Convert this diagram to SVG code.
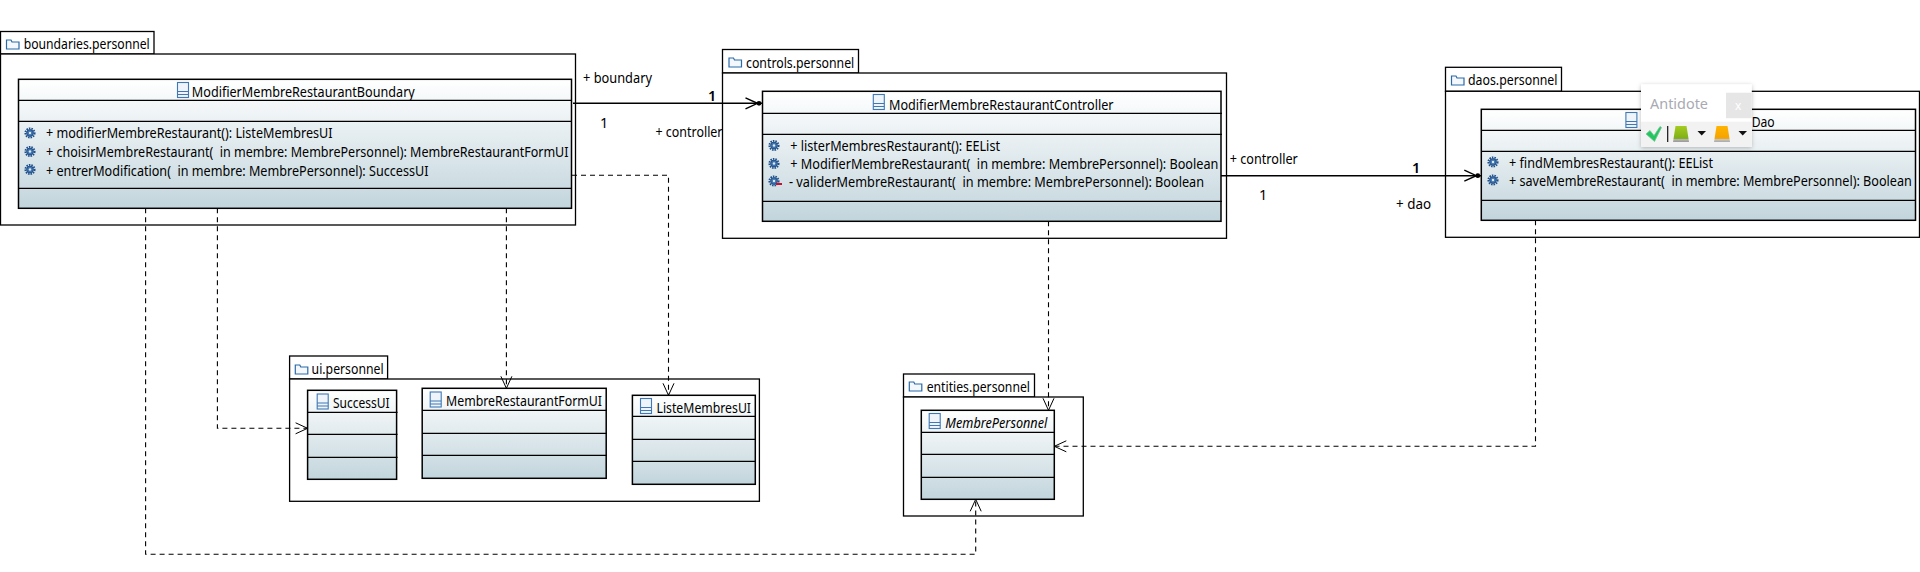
<svg xmlns="http://www.w3.org/2000/svg" width="1920" height="572" viewBox="0 0 1920 572">
<style>
text{font-family:"Noto Sans","Liberation Sans",sans-serif;font-size:14.5px;fill:#000;white-space:pre}
.pkg{fill:#fff;stroke:#000;stroke-width:1.3}
.cls{fill:url(#g);stroke:#000;stroke-width:1.5}
.sep{stroke:#000;stroke-width:1.3}
.ci{fill:#eef4fa;stroke:#3f78b5;stroke-width:1.1}
.fo{fill:#f4f8fc;stroke:#2a6aa8;stroke-width:1.2}
.as{fill:none;stroke:#000;stroke-width:1.4;marker-end:url(#assoc)}
.dp{fill:none;stroke:#000;stroke-width:1.1;stroke-dasharray:5 4;marker-end:url(#open)}
.it{font-style:italic}
.b{font-weight:600}
</style>
<defs>
<linearGradient id="g" x1="0" y1="0" x2="0" y2="1"><stop offset="0" stop-color="#fff"/><stop offset="1" stop-color="#c2d5dc"/></linearGradient>
<linearGradient id="gr" x1="0" y1="0" x2="0" y2="1"><stop offset="0" stop-color="#a5cc1f"/><stop offset=".78" stop-color="#7eaf16"/><stop offset=".8" stop-color="#bbb"/><stop offset="1" stop-color="#999"/></linearGradient>
<linearGradient id="or" x1="0" y1="0" x2="0" y2="1"><stop offset="0" stop-color="#ffb400"/><stop offset=".78" stop-color="#f5a300"/><stop offset=".8" stop-color="#ccc"/><stop offset="1" stop-color="#aaa"/></linearGradient>
<filter id="sh" x="-10%" y="-15%" width="120%" height="130%"><feDropShadow dx="0" dy="1" stdDeviation="2" flood-color="#000" flood-opacity=".25"/></filter>
<marker id="open" markerUnits="userSpaceOnUse" markerWidth="16" markerHeight="14" refX="13" refY="6.5" orient="auto"><path d="M1 1L13 6.5L1 12" fill="none" stroke="#000" stroke-width="1"/></marker>
<marker id="assoc" markerUnits="userSpaceOnUse" markerWidth="20" markerHeight="16" refX="18" refY="7" orient="auto"><path d="M1 1.5L13 7L1 12.5" fill="none" stroke="#000" stroke-width="1.4"/><circle cx="14.5" cy="7" r="2.4" fill="#000"/></marker>
<g id="gear"><circle r="4.6" fill="none" stroke="#1f4f8a" stroke-width="1.9" stroke-dasharray="1.5 1"/><circle r="3.4" fill="#3f75b0" stroke="#1c477f" stroke-width=".9"/><circle r="1.2" fill="#dfeaf5"/></g>
<g id="cicon"><rect class="ci" x="-5.5" y="-7.5" width="11" height="15"/><path class="ci" d="M-5.5 1.5H5.5M-5.5 4.5H5.5"/></g>
<path id="fold" class="fo" d="M0 1V10H12.5V3H5.5L4.5 1Z"/>
</defs>

<g id="pkg-boundaries">
<rect class="pkg" x="0.5" y="31.5" width="153.5" height="22.5"/>
<rect class="pkg" x="0.5" y="54" width="575" height="171"/>
<use href="#fold" x="6.5" y="39"/>
<text x="23.7" y="49" textLength="126" lengthAdjust="spacingAndGlyphs">boundaries.personnel</text>
</g>
<g id="ModifierMembreRestaurantBoundary">
<rect class="cls" x="18.5" y="79.3" width="553" height="129"/>
<path class="sep" d="M18.5 100.3H572M18.5 121.3H572M18.5 188.3H572"/>
<use href="#cicon" x="183" y="90"/>
<text x="191.8" y="97" textLength="223" lengthAdjust="spacingAndGlyphs">ModifierMembreRestaurantBoundary</text>
<use href="#gear" x="30" y="133"/><use href="#gear" x="30" y="151.5"/><use href="#gear" x="30" y="169.5"/>
<text x="46" y="138" textLength="286.5" lengthAdjust="spacingAndGlyphs">+ modifierMembreRestaurant(): ListeMembresUI</text>
<text x="46" y="157" textLength="522.5" lengthAdjust="spacingAndGlyphs">+ choisirMembreRestaurant(  in membre: MembrePersonnel): MembreRestaurantFormUI</text>
<text x="46" y="175.5" textLength="382.5" lengthAdjust="spacingAndGlyphs">+ entrerModification(  in membre: MembrePersonnel): SuccessUI</text>
</g>

<g id="pkg-controls">
<rect class="pkg" x="722.5" y="49.5" width="136" height="23.5"/>
<rect class="pkg" x="722.5" y="73" width="504" height="165.3"/>
<use href="#fold" x="729" y="57"/>
<text x="746" y="67.5" textLength="108.3" lengthAdjust="spacingAndGlyphs">controls.personnel</text>
</g>
<g id="ModifierMembreRestaurantController">
<rect class="cls" x="762.5" y="91.3" width="458.5" height="130"/>
<path class="sep" d="M762.5 113.3H1222M762.5 134.3H1222M762.5 201.3H1222"/>
<use href="#cicon" x="878.8" y="102"/>
<text x="889" y="109.5" textLength="224.5" lengthAdjust="spacingAndGlyphs">ModifierMembreRestaurantController</text>
<use href="#gear" x="774" y="145.5"/><use href="#gear" x="774" y="163.5"/><use href="#gear" x="774" y="181"/>
<path d="M776 184H782" stroke="#c8102e" stroke-width="2"/>
<text x="790.2" y="151" textLength="209.8" lengthAdjust="spacingAndGlyphs">+ listerMembresRestaurant(): EEList</text>
<text x="790.2" y="169" textLength="428.2" lengthAdjust="spacingAndGlyphs">+ ModifierMembreRestaurant(  in membre: MembrePersonnel): Boolean</text>
<text x="789" y="187" textLength="415" lengthAdjust="spacingAndGlyphs">- validerMembreRestaurant(  in membre: MembrePersonnel): Boolean</text>
</g>

<g id="pkg-daos">
<rect class="pkg" x="1445.5" y="67.3" width="116" height="24"/>
<rect class="pkg" x="1445.5" y="91.3" width="474" height="146"/>
<use href="#fold" x="1451.5" y="75"/>
<text x="1468" y="85" textLength="89.5" lengthAdjust="spacingAndGlyphs">daos.personnel</text>
</g>
<g id="MembreRestaurantDao">
<rect class="cls" x="1481.3" y="109.3" width="434.2" height="111"/>
<path class="sep" d="M1481.3 130.3H1915.5M1481.3 151.3H1915.5M1481.3 200.3H1915.5"/>
<use href="#cicon" x="1631.4" y="120"/>
<text x="1751.7" y="127" textLength="23" lengthAdjust="spacingAndGlyphs">Dao</text>
<use href="#gear" x="1493" y="162"/><use href="#gear" x="1493" y="180"/>
<text x="1509" y="168" textLength="204" lengthAdjust="spacingAndGlyphs">+ findMembresRestaurant(): EEList</text>
<text x="1509" y="186" textLength="402.8" lengthAdjust="spacingAndGlyphs">+ saveMembreRestaurant(  in membre: MembrePersonnel): Boolean</text>
</g>

<g id="pkg-ui">
<rect class="pkg" x="289.6" y="356" width="98" height="23"/>
<rect class="pkg" x="289.6" y="379" width="469.8" height="122.3"/>
<use href="#fold" x="295.3" y="364"/>
<text x="311.6" y="374" textLength="72" lengthAdjust="spacingAndGlyphs">ui.personnel</text>
</g>
<g id="SuccessUI">
<rect class="cls" x="307.6" y="390.3" width="89" height="89"/>
<path class="sep" d="M307.6 412.3H397.5M307.6 434.3H397.5M307.6 457.3H397.5"/>
<use href="#cicon" x="322.7" y="401.5"/>
<text x="332.9" y="408" textLength="56.7" lengthAdjust="spacingAndGlyphs">SuccessUI</text>
</g>
<g id="MembreRestaurantFormUI">
<rect class="cls" x="422.2" y="388.3" width="184" height="90"/>
<path class="sep" d="M422.2 410.3H607M422.2 433.3H607M422.2 455.3H607"/>
<use href="#cicon" x="435.7" y="399.5"/>
<text x="446" y="406" textLength="156" lengthAdjust="spacingAndGlyphs">MembreRestaurantFormUI</text>
</g>
<g id="ListeMembresUI">
<rect class="cls" x="632.4" y="395.3" width="122.9" height="89"/>
<path class="sep" d="M632.4 416.3H756M632.4 439.3H756M632.4 461.3H756"/>
<use href="#cicon" x="646" y="406"/>
<text x="656.5" y="413" textLength="94.5" lengthAdjust="spacingAndGlyphs">ListeMembresUI</text>
</g>

<g id="pkg-entities">
<rect class="pkg" x="903.5" y="374" width="131" height="23"/>
<rect class="pkg" x="903.5" y="397" width="179.8" height="119"/>
<use href="#fold" x="909.3" y="381"/>
<text x="926.7" y="392" textLength="103.3" lengthAdjust="spacingAndGlyphs">entities.personnel</text>
</g>
<g id="MembrePersonnel">
<rect class="cls" x="921.3" y="410.3" width="133" height="89"/>
<path class="sep" d="M921.3 432.3H1055M921.3 454.3H1055M921.3 477.3H1055"/>
<use href="#cicon" x="934.7" y="421"/>
<text class="it" x="945.3" y="427.5" textLength="102" lengthAdjust="spacingAndGlyphs">MembrePersonnel</text>
</g>

<g id="connectors">
<path class="as" d="M573 103.3H762.5"/>
<path class="as" d="M1221 175.7H1481.3"/>
<path class="dp" d="M572 175.3H668.5V395.3"/>
<path class="dp" d="M506.4 208.3V388.3"/>
<path class="dp" d="M217.4 208.3V428.3H307.6"/>
<path class="dp" d="M145.6 208.3V554.3H975.7V499.3"/>
<path class="dp" d="M1048.5 221.3V410.3"/>
<path class="dp" d="M1535.5 220.3V446.3H1054.3"/>
<g id="connector-labels">
<text x="583" y="83" textLength="69" lengthAdjust="spacingAndGlyphs">+ boundary</text>
<text x="600" y="128">1</text>
<text class="b" x="708" y="101">1</text>
<text x="655.5" y="137" textLength="67" lengthAdjust="spacingAndGlyphs">+ controller</text>
<text x="1229.8" y="164" textLength="68" lengthAdjust="spacingAndGlyphs">+ controller</text>
<text x="1259" y="200">1</text>
<text class="b" x="1412" y="173">1</text>
<text x="1396" y="209" textLength="35" lengthAdjust="spacingAndGlyphs">+ dao</text>
</g>
</g>

<g id="antidote-popup">
<rect x="1641" y="84.3" width="110.8" height="62.7" fill="#fff" filter="url(#sh)"/>
<rect x="1641" y="121.7" width="110.8" height="25.3" fill="#f2f2f2"/>
<rect x="1726" y="92.7" width="25.8" height="25.5" fill="#e6e6e6"/>
<text x="1650" y="109" textLength="58" lengthAdjust="spacingAndGlyphs" style="font-size:15px;fill:#a9a9b3">Antidote</text>
<text x="1735" y="110" style="font-size:12px;fill:#fff">x</text>
<path d="M1646 134L1650 130.5L1654 135.5L1660 126.5L1661.5 127.5L1654.5 141.5Z" fill="#22c55e" stroke="#7ac79a" stroke-width=".8"/>
<path d="M1667.7 126V142" stroke="#111" stroke-width="1.2"/>
<path d="M1675.5 126H1686.5L1689 142H1673Z" fill="url(#gr)"/>
<path d="M1697.5 131H1706L1701.7 135.5Z" fill="#111"/>
<path d="M1716.5 126H1727.5L1730 142H1714Z" fill="url(#or)"/>
<path d="M1738.5 131H1747L1742.7 135.5Z" fill="#111"/>
</g>
</svg>
